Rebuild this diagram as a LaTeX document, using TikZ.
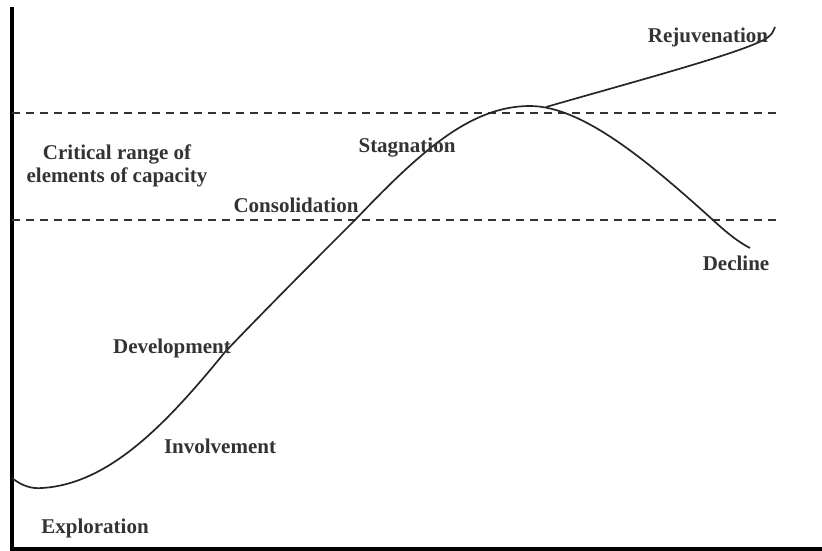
\documentclass[tikz,border=0pt]{standalone}
\usepackage{fontspec}
\setmainfont{Liberation Serif}
\usepackage{tikz}

\tikzset{
  stage/.style={font=\bfseries\fontsize{21}{23}\selectfont, text=black!80, inner sep=0pt},
  rangeline/.style={dashed, dash pattern=on 8pt off 6pt, line width=1.8pt, black!80},
  lifecurve/.style={line width=1.7pt, black!85},
  axisline/.style={line width=3.5pt, black}
}

\begin{document}
\begin{tikzpicture}[x=1pt,y=-1pt]

        	\useasboundingbox (0,0) rectangle (822,551);

        	% axes
        	\coordinate (top) at (12, 7);
        	\coordinate (origin) at (12, 549);
        	\coordinate (right) at (822, 549);
        	\draw[axisline] (top) -- (origin) -- (right);

        	% critical range
        	\coordinate (hiL) at (12, 113);
        	\coordinate (hiR) at (778, 113);
        	\coordinate (loL) at (12, 220);
        	\coordinate (loR) at (778, 220);
        	\draw[rangeline] (hiL) -- (hiR);
        	\draw[rangeline] (loL) -- (loR);

        	% points on the curve
        	\coordinate (start) at (12, 478);
        	\coordinate (low) at (42, 488);
        	\coordinate (grow) at (225, 352);
        	\coordinate (cross) at (355, 220);
        	\coordinate (peak) at (530, 106);
        	\coordinate (fall) at (713, 220);
        	\coordinate (end) at (750, 248);

        	% main curve with decline
        	\draw[lifecurve] (start) .. controls (22, 486) and (32, 489) .. (low)
        		.. controls (110, 484) and (168, 422) .. (grow)
        		.. controls (270, 305) and (310, 265) .. (cross)
        		.. controls (420, 152) and (470, 106) .. (peak)
        		.. controls (585, 106) and (655, 168) .. (fall)
        		.. controls (728, 234) and (740, 243) .. (end);

        	% rejuvenation
        	\coordinate (fork) at (546, 107);
        	\coordinate (bend) at (767, 38);
        	\coordinate (tip) at (775, 27);
        	\draw[lifecurve] (fork) .. controls (640, 80) and (745, 52) .. (bend)
        		.. controls (772, 34) .. (tip);

        	% stages
        	\node[stage] (rejuv) at (708, 37) {Rejuvenation};
        	\node[stage, align=center] (crit) at (117, 166) {Critical range of\\elements of capacity};
        	\node[stage] (stag) at (407, 148) {Stagnation};
        	\node[stage] (cons) at (296, 205) {Consolidation};
        	\node[stage] (decl) at (736, 263) {Decline};
        	\node[stage] (devel) at (172, 348) {Development};
        	\node[stage] (invol) at (220, 446) {Involvement};
        	\node[stage] (explo) at (95, 528) {Exploration};

\end{tikzpicture}
\end{document}
